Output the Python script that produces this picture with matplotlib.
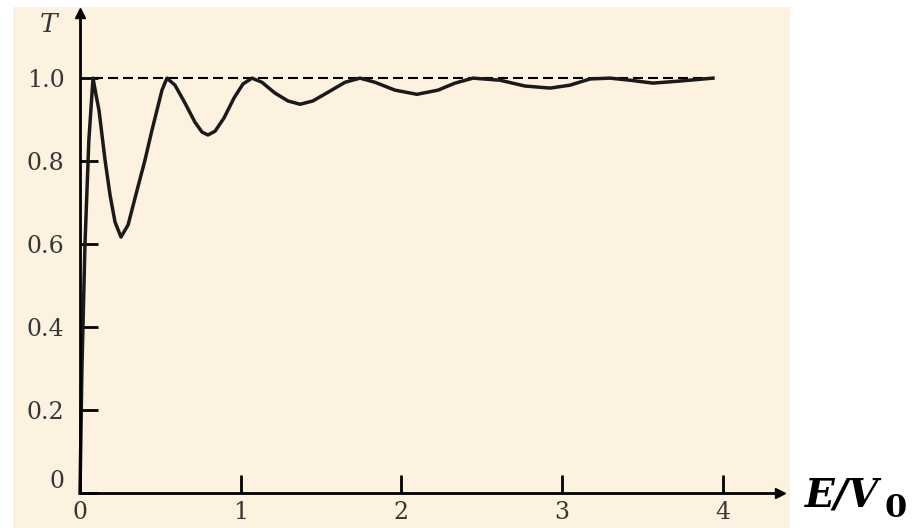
import matplotlib
matplotlib.use("Agg")
import matplotlib.pyplot as plt
from matplotlib.patches import Rectangle

# transmission curve
energy = [0, 0.012, 0.031, 0.055, 0.081, 0.100, 0.118, 0.156, 0.187, 0.218,
          0.255, 0.299, 0.355, 0.404, 0.448, 0.479, 0.510, 0.541, 0.591, 0.653,
          0.715, 0.759, 0.796, 0.840, 0.896, 0.958, 1.014, 1.070, 1.132, 1.213,
          1.294, 1.369, 1.449, 1.543, 1.649, 1.742, 1.835, 1.960, 2.096, 2.227,
          2.333, 2.445, 2.613, 2.768, 2.924, 3.048, 3.173, 3.297, 3.421, 3.565,
          3.733, 3.938]
transmission = [0, 0.30, 0.60, 0.85, 1.0, 0.959, 0.923, 0.802, 0.718, 0.653,
                0.617, 0.646, 0.730, 0.802, 0.875, 0.923, 0.971, 1.0, 0.983, 0.940,
                0.894, 0.870, 0.863, 0.872, 0.904, 0.952, 0.986, 1.0, 0.990, 0.964,
                0.945, 0.937, 0.945, 0.966, 0.990, 1.0, 0.990, 0.971, 0.961, 0.971,
                0.988, 1.0, 0.995, 0.981, 0.976, 0.983, 0.998, 1.0, 0.995, 0.988,
                0.993, 1.0]

x_ticks = [0, 1, 2, 3, 4]
x_labels = ['0', '1', '2', '3', '4']
y_ticks = [0, 0.2, 0.4, 0.6, 0.8, 1.0]
y_labels = ['0', '0.2', '0.4', '0.6', '0.8', '1.0']

W, H = 914, 528
fig = plt.figure(figsize=(W / 100, H / 100), dpi=100)
fig.patch.set_facecolor('white')

# beige paper behind the plot
fig.add_artist(Rectangle((13 / W, 0), (790 - 13) / W, 1 - 7 / H,
                         transform=fig.transFigure, facecolor='#fcf2df',
                         edgecolor='none', zorder=0))

ax = fig.add_axes([80 / W, 35 / H, 700 / W, 480 / H])
ax.patch.set_alpha(0)
ax.set_xlim(0, 4.355)
ax.set_ylim(0, 1.157)

for side in ['top', 'right']:
    ax.spines[side].set_visible(False)
for side in ['left', 'bottom']:
    ax.spines[side].set_linewidth(2)
    ax.spines[side].set_color('black')

# arrow heads on the axes
ax.plot(1, 0, '>k', ms=7, transform=ax.get_yaxis_transform(), clip_on=False)
ax.plot(0, 1, '^k', ms=7, transform=ax.get_xaxis_transform(), clip_on=False)

ax.plot([energy[4], energy[-1]], [1.0, 1.0], color='black', lw=1.5,
        dashes=(4.8, 2.4))
ax.plot(energy, transmission, color='#1a1a1a', lw=2.5, clip_on=False,
        solid_joinstyle='round')

lab_font = {'family': 'DejaVu Serif', 'size': 17, 'color': '#363636'}
ax.set_xticks(x_ticks)
ax.set_xticklabels(x_labels, fontdict=lab_font)
ax.set_yticks(y_ticks)
ax.set_yticklabels(y_labels, fontdict=lab_font)
ax.tick_params(axis='both', direction='in', length=13, width=2, color='black')
ax.tick_params(axis='x', pad=6)
ax.tick_params(axis='y', pad=11)
ax.get_yticklabels()[0].set_va('bottom')

fig.text(49 / W, 1 - 25 / H, 'T', ha='center', va='center',
         family='DejaVu Serif', style='italic', size=19, color='#363636')

fig.text(805 / W, 1 - 507 / H, 'E/V', ha='left', va='baseline',
         family='DejaVu Serif', style='italic', weight='bold', size=28,
         color='black')
fig.text(884 / W, 1 - 517 / H, '0', ha='left', va='baseline',
         family='DejaVu Serif', weight='bold', size=23, color='black')

fig.savefig('out.png', dpi=100)
